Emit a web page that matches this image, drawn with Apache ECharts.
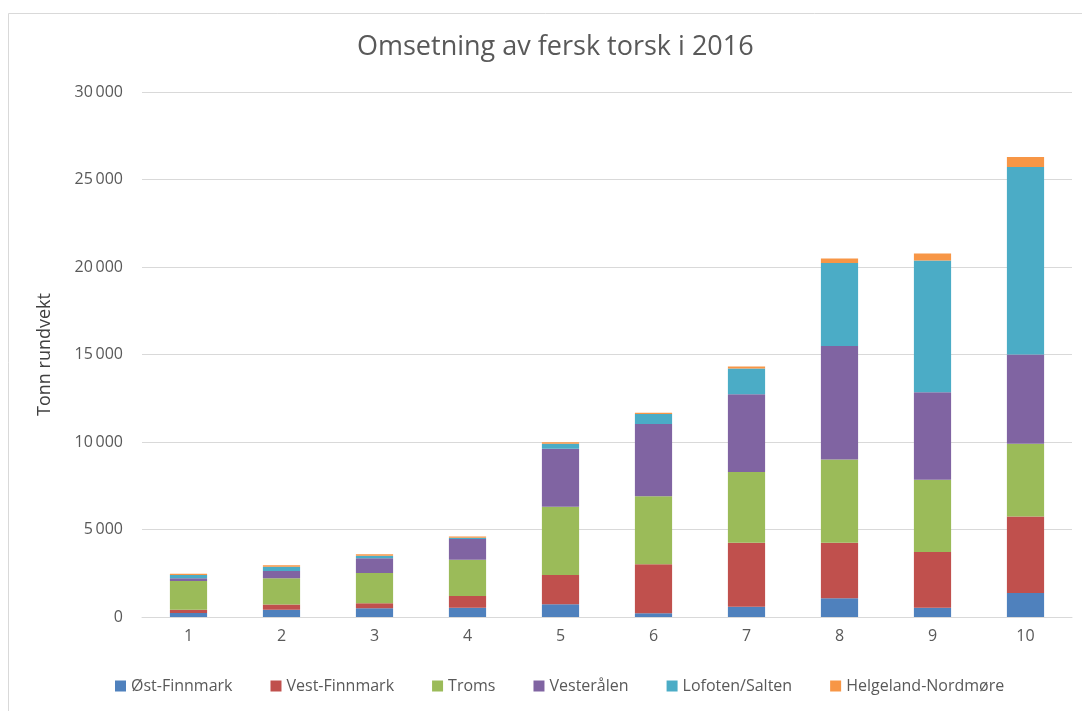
<!DOCTYPE html>
<html>
<head>
<meta charset="utf-8">
<script src="https://cdn.jsdelivr.net/npm/echarts@6/dist/echarts.min.js"></script>
<style>
html,body{margin:0;padding:0;background:#fff;}
#chart{width:1082px;height:711px;}
</style>
</head>
<body>
<div id="chart"></div>
<script>
const categories = ['1','2','3','4','5','6','7','8','9','10'];
const seriesNames = ['Øst-Finnmark','Vest-Finnmark','Troms','Vesterålen','Lofoten/Salten','Helgeland-Nordmøre'];
const ostFinnmark = [230, 420, 500, 530, 725, 210, 590, 1070, 535, 1370];
const vestFinnmark = [190, 290, 285, 670, 1675, 2800, 3660, 3180, 3180, 4380];
const troms = [1640, 1505, 1730, 2075, 3905, 3885, 4040, 4745, 4135, 4150];
const vesteralen = [150, 420, 840, 1180, 3315, 4130, 4440, 6495, 4990, 5105];
const lofotenSalten = [190, 230, 150, 75, 285, 570, 1470, 4745, 7525, 10705];
const helgelandNordmore = [75, 95, 75, 75, 75, 75, 115, 250, 400, 570];
const colors = ['#4F81BD','#C0504D','#9BBB59','#8064A2','#4BACC6','#F79646'];
const allData = [ostFinnmark, vestFinnmark, troms, vesteralen, lofotenSalten, helgelandNordmore];

const font = '"Open Sans", "Noto Sans", sans-serif';
const chart = echarts.init(document.getElementById('chart'), null, {renderer: 'canvas'});
chart.setOption({
  animation: false,
  backgroundColor: '#fff',
  color: colors,
  graphic: [{
    type: 'rect',
    shape: {x: 8.5, y: 13.5, width: 1100, height: 720},
    style: {fill: 'none', stroke: '#d9d9d9', lineWidth: 1},
    silent: true
  }],
  title: {
    text: 'Omsetning av fersk torsk i 2016',
    left: 352,
    top: 29,
    textStyle: {fontFamily: font, fontSize: 27, fontWeight: 'normal', color: '#595959'}
  },
  legend: {
    bottom: 12,
    left: 110,
    itemWidth: 11,
    itemHeight: 11,
    itemGap: 38,
    itemTextGap: 4,
    icon: 'rect',
    textStyle: {fontFamily: font, fontSize: 16, color: '#595959'},
    data: seriesNames
  },
  grid: {left: 142, right: 10, top: 92, bottom: 94, containLabel: false},
  xAxis: {
    type: 'category',
    data: categories,
    axisLine: {lineStyle: {color: '#d9d9d9'}},
    axisTick: {show: false},
    axisLabel: {fontFamily: font, fontSize: 16, color: '#595959', margin: 11}
  },
  yAxis: {
    type: 'value',
    min: 0, max: 30000, interval: 5000,
    name: 'Tonn rundvekt',
    nameLocation: 'middle',
    nameGap: 88,
    nameRotate: 90,
    nameTextStyle: {fontFamily: font, fontSize: 18, color: '#404040'},
    axisLine: {show: false},
    axisTick: {show: false},
    splitLine: {lineStyle: {color: '#d9d9d9'}},
    axisLabel: {
      fontFamily: font, fontSize: 16, color: '#595959', margin: 19,
      formatter: v => v >= 1000 ? String(v).replace(/\B(?=(\d{3})+(?!\d))/g, '\u2009') : String(v)
    }
  },
  series: seriesNames.map((n, i) => ({
    name: n,
    type: 'bar',
    stack: 'total',
    barWidth: '40%',
    data: allData[i],
    itemStyle: {color: colors[i]}
  }))
});
</script>
</body>
</html>
